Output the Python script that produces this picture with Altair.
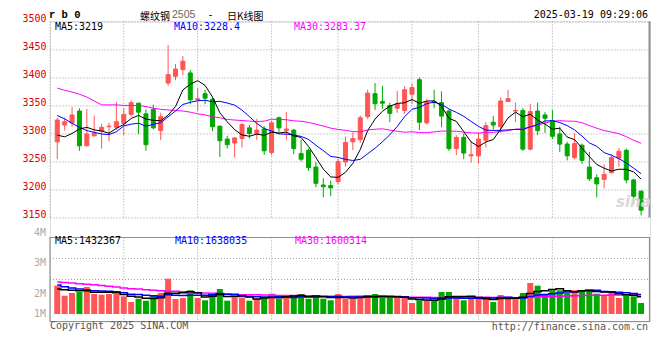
import altair as alt
import pandas as pd

# ---------------- data ----------------
dates = ["11-19", "11-20", "11-21", "11-22", "11-25", "11-26", "11-27", "11-28", "11-29",
         "12-02", "12-03", "12-04", "12-05", "12-06", "12-09", "12-10", "12-11", "12-12", "12-13",
         "12-16", "12-17", "12-18", "12-19", "12-20", "12-23", "12-24", "12-25", "12-26", "12-27",
         "12-30", "12-31", "01-02", "01-03", "01-06", "01-07", "01-08", "01-09", "01-10",
         "01-13", "01-14", "01-15", "01-16", "01-17", "01-20", "01-21", "01-22", "01-23", "01-24",
         "01-27", "02-05", "02-06", "02-07", "02-10", "02-11", "02-12", "02-13", "02-14",
         "02-17", "02-18", "02-19", "02-20", "02-21", "02-24", "02-25", "02-26", "02-27", "02-28",
         "03-03", "03-04", "03-05", "03-06", "03-07", "03-10", "03-11", "03-12", "03-13", "03-14",
         "03-17", "03-18", "03-19"]

opens = [3285, 3315, 3319, 3340, 3278, 3296, 3304, 3312, 3311, 3318,
         3334, 3354, 3335, 3343, 3305, 3390, 3402, 3414, 3408, 3360,
         3371, 3361, 3313, 3290, 3283, 3291, 3310, 3299, 3308, 3266,
         3328, 3305, 3306, 3264, 3270, 3240, 3208, 3207, 3214, 3249,
         3285, 3289, 3330, 3371, 3357, 3350, 3345, 3341, 3370, 3396,
         3319, 3357, 3355, 3340, 3273, 3293, 3260, 3260, 3288, 3320,
         3312, 3357, 3340, 3341, 3272, 3340, 3333, 3323, 3299, 3281,
         3257, 3279, 3240, 3221, 3218, 3230, 3256, 3270, 3217, 3197]
highs = [3328, 3328, 3347, 3345, 3344, 3332, 3317, 3319, 3356, 3345,
         3359, 3355, 3343, 3351, 3337, 3458, 3424, 3438, 3413, 3381,
         3378, 3363, 3314, 3296, 3293, 3319, 3315, 3326, 3313, 3322,
         3330, 3338, 3308, 3289, 3273, 3249, 3220, 3216, 3255, 3294,
         3302, 3332, 3378, 3390, 3385, 3355, 3376, 3384, 3389, 3400,
         3362, 3378, 3375, 3343, 3297, 3300, 3286, 3301, 3320, 3331,
         3364, 3378, 3355, 3345, 3353, 3355, 3338, 3342, 3312, 3285,
         3300, 3282, 3267, 3227, 3245, 3263, 3274, 3273, 3219, 3198]
lows = [3254, 3305, 3312, 3269, 3277, 3294, 3273, 3286, 3306, 3297,
        3330, 3299, 3269, 3307, 3288, 3385, 3395, 3404, 3352, 3340,
        3352, 3304, 3258, 3273, 3257, 3275, 3291, 3288, 3262, 3261,
        3302, 3288, 3263, 3250, 3233, 3204, 3186, 3188, 3209, 3241,
        3270, 3283, 3326, 3342, 3344, 3320, 3337, 3335, 3352, 3306,
        3316, 3345, 3311, 3269, 3261, 3254, 3248, 3246, 3275, 3307,
        3301, 3356, 3320, 3269, 3270, 3297, 3301, 3290, 3267, 3252,
        3254, 3246, 3215, 3186, 3202, 3229, 3241, 3211, 3174, 3154]
closes = [3324, 3321, 3333, 3278, 3299, 3301, 3311, 3313, 3321, 3334,
          3355, 3338, 3280, 3310, 3330, 3405, 3415, 3429, 3360, 3362,
          3363, 3312, 3287, 3280, 3292, 3316, 3300, 3306, 3269, 3319,
          3310, 3308, 3273, 3254, 3239, 3211, 3205, 3203, 3250, 3284,
          3291, 3328, 3372, 3353, 3354, 3336, 3353, 3378, 3382, 3320,
          3356, 3355, 3331, 3273, 3293, 3265, 3262, 3290, 3314, 3315,
          3358, 3362, 3341, 3272, 3339, 3305, 3327, 3295, 3281, 3260,
          3282, 3252, 3219, 3210, 3227, 3257, 3268, 3217, 3188, 3163]
volumes = [2368000, 1531000, 1757000, 1841000, 2259000, 1674000, 1615000, 1674000, 1674000, 1481000,
           1004000, 1280000, 1113000, 1590000, 1757000, 2954000, 1255000, 1339000, 1983000, 1339000,
           1146000, 1590000, 2092000, 1113000, 1481000, 1339000, 1113000, 1255000, 1481000, 1699000,
           1255000, 1481000, 1590000, 1674000, 1280000, 1481000, 1280000, 1146000, 1674000, 1280000,
           1280000, 1531000, 1590000, 1674000, 1339000, 1339000, 1339000, 1339000, 921000, 1146000,
           1146000, 1197000, 1841000, 1841000, 1339000, 1146000, 1255000, 1339000, 1339000, 1004000,
           1590000, 1255000, 1423000, 1757000, 2594000, 2368000, 1590000, 1983000, 1983000, 1757000,
           1983000, 1983000, 1983000, 1699000, 1590000, 1900000, 1339000, 1531000, 1481000, 921000]

# moving-average values visible before enough bars exist
ma5_lead = [3297, 3294, 3300, 3308]
ma10_lead = [3332, 3326, 3318, 3311, 3305, 3302, 3299, 3298, 3303]
ma30_lead = [3381, 3377, 3374, 3370, 3365, 3358, 3351, 3351, 3351, 3350,
             3350, 3350, 3348, 3345, 3343, 3342, 3341, 3340, 3338, 3335,
             3333, 3330, 3328, 3325, 3324, 3323, 3322, 3321, 3322]
vma5_lead = [2090000, 2030000, 1980000, 1950000]
vma10_lead = [2430000, 2280000, 2180000, 2090000, 2010000, 1950000, 1920000, 1900000, 1870000]
vma30_lead = [2680000, 2640000, 2590000, 2540000, 2490000, 2450000, 2380000, 2320000, 2260000, 2180000,
              2120000, 2090000, 2030000, 1980000, 1950000, 1900000, 1900000, 1870000, 1820000, 1760000,
              1760000, 1730000, 1700000, 1670000, 1650000, 1620000, 1620000, 1600000, 1580000]

price_ticks = [3150, 3200, 3250, 3300, 3350, 3400, 3450, 3500]
date_ticks = ["11-19", "12-02", "12-16", "12-30", "01-13", "01-27", "02-17", "03-03", "03-17"]
grid_dates = ["12-02", "12-16", "12-30", "01-13", "01-27", "02-17", "03-03"]
vol_tick_labels = ["4M", "3M", "2M", "1M"]
vol_tick_values = [6740000, 4270000, 1670000, 0]
price_ma_text = ["MA5:3219", "MA10:3228.4", "MA30:3283.37"]
vol_ma_text = ["MA5:1432367", "MA10:1638035", "MA30:1600314"]

# ---------------- styling ----------------
W, H = 600, 300
TOP_PAD = 13.4
PRICE_BOTTOM = 196.1
VOL_TOP, VOL_BOTTOM = 216.1, 300.1
LATIN_BASE = 18.0 - 8 - TOP_PAD      # header baseline (page y 18)
CJK_BASE = 19.9 - 8 - TOP_PAD        # CJK header baseline (page y 19.9)
RED = "#ff5555"
GREEN = "#00a800"
GRID = "#a0a0a0"
FRAME = "#909090"
MONO = "DejaVu Sans Mono"
CJK = "Noto Sans CJK SC"
UP = "datum.close >= datum.open"


def moving_average(values, n, lead):
    s = pd.Series(values, dtype=float).rolling(n).mean()
    s.iloc[: n - 1] = lead
    return s.round(2)


df = pd.DataFrame({"i": range(len(dates)), "date": dates, "open": opens, "high": highs,
                   "low": lows, "close": closes, "vol": volumes})
df["ma5"] = moving_average(closes, 5, ma5_lead)
df["ma10"] = moving_average(closes, 10, ma10_lead)
df["ma30"] = moving_average(closes, 30, ma30_lead)
df["vma5"] = moving_average(volumes, 5, vma5_lead)
df["vma10"] = moving_average(volumes, 10, vma10_lead)
df["vma30"] = moving_average(volumes, 30, vma30_lead)

XS = alt.Scale(domain=[-0.306, 79.53], nice=False, zero=False)
PS = alt.Scale(domain=[3150, 3500], range=[PRICE_BOTTOM, 0], nice=False, zero=False)
VS = alt.Scale(domain=[-628000, 6402000], range=[VOL_BOTTOM, VOL_TOP], nice=False, zero=False)

tick_idx = [dates.index(d) for d in date_ticks]
label_expr = " : ".join(f"datum.value == {k} ? '{d}'" for k, d in zip(tick_idx, date_ticks)) + " : ''"
grid_df = pd.DataFrame({"i": [dates.index(d) for d in grid_dates]})

base = alt.Chart(df)
one = pd.DataFrame({"d": [0]})


def note(text, x, y, color="#000000", size=10, font=MONO, align="left", weight="normal",
         style="normal", baseline="middle"):
    return alt.Chart(pd.DataFrame({"t": [text]})).mark_text(
        align=align, baseline=baseline, font=font, fontSize=size, color=color,
        fontWeight=weight, fontStyle=style
    ).encode(x=alt.value(x), y=alt.value(y), text="t:N")


layers = []

# vertical grid lines in both panels
layers.append(alt.Chart(grid_df).mark_rule(color=GRID, strokeDash=[1, 2], strokeWidth=1).encode(
    x=alt.X("i:Q", scale=XS, axis=None), y=alt.value(0), y2=alt.value(PRICE_BOTTOM)))
layers.append(alt.Chart(grid_df).mark_rule(color=GRID, strokeDash=[1, 2], strokeWidth=1).encode(
    x=alt.X("i:Q", scale=XS, axis=None), y=alt.value(VOL_TOP), y2=alt.value(VOL_BOTTOM)))
# horizontal dotted grid lines of the volume panel
for frac in (0.25, 0.5):
    yy = VOL_TOP + (VOL_BOTTOM - VOL_TOP) * frac
    layers.append(alt.Chart(one).mark_rule(color=GRID, strokeDash=[1, 2], strokeWidth=1).encode(
        x=alt.value(0), x2=alt.value(W), y=alt.value(yy)))
# panel frames
layers.append(alt.Chart(one).mark_rule(color=GRID, strokeDash=[1, 2], strokeWidth=1).encode(
    x=alt.value(0), y=alt.value(0), y2=alt.value(PRICE_BOTTOM)))
layers.append(alt.Chart(one).mark_rule(color=FRAME, strokeWidth=2).encode(
    x=alt.value(W - 0.5), y=alt.value(0), y2=alt.value(PRICE_BOTTOM)))
layers.append(alt.Chart(one).mark_rect(fillOpacity=0, stroke=FRAME, strokeWidth=1.2).encode(
    x=alt.value(0), x2=alt.value(W - 0.5), y=alt.value(VOL_TOP), y2=alt.value(VOL_BOTTOM)))

# volume bars
layers.append(base.mark_bar(size=6, orient="vertical").encode(
    x=alt.X("i:Q", scale=XS, axis=None),
    y=alt.Y("vol:Q", scale=VS, axis=None),
    y2=alt.datum(0),
    color=alt.condition(UP, alt.value(RED), alt.value(GREEN))))
# volume moving averages
for field, col in (("vma30", "#ff00ff"), ("vma10", "#0000ff"), ("vma5", "#000000")):
    layers.append(base.mark_line(color=col, strokeWidth=1.5, interpolate="step").encode(
        x=alt.X("i:Q", scale=XS, axis=None), y=alt.Y(f"{field}:Q", scale=VS, axis=None)))

# candle wicks (carry the date axis)
layers.append(base.mark_rule(strokeWidth=1).encode(
    x=alt.X("i:Q", scale=XS, axis=alt.Axis(
        values=tick_idx, labelExpr=label_expr, offset=-(H - PRICE_BOTTOM), domain=False,
        ticks=False, grid=False, labelColor="#1874cd", labelFont=MONO, labelFontSize=10,
        labelPadding=10.5, labelBaseline="alphabetic", labelFlush=False, labelOverlap=False,
        title=None)),
    y=alt.Y("low:Q", scale=PS, axis=None),
    y2="high:Q",
    color=alt.condition(UP, alt.value(RED), alt.value(GREEN))))
# candle bodies (carry the price axis)
layers.append(base.mark_bar(size=4, strokeWidth=1, orient="vertical").encode(
    x=alt.X("i:Q", scale=XS, axis=None),
    y=alt.Y("open:Q", scale=PS, axis=alt.Axis(
        values=price_ticks, format="d", grid=True, gridColor=GRID, gridDash=[1, 2], gridWidth=1,
        domain=False, ticks=False, labelColor="#dd0000", labelFont=MONO, labelFontSize=10,
        labelPadding=4, labelBaseline="alphabetic", labelOffset=0.5, title=None)),
    y2="close:Q",
    color=alt.condition(UP, alt.value(RED), alt.value(GREEN)),
    stroke=alt.condition(UP, alt.value(RED), alt.value(GREEN))))
# price moving averages
for field, col in (("ma30", "#ff00ff"), ("ma10", "#0000ff"), ("ma5", "#000000")):
    layers.append(base.mark_line(color=col, strokeWidth=1).encode(
        x=alt.X("i:Q", scale=XS, axis=None), y=alt.Y(f"{field}:Q", scale=PS, axis=None)))

# volume axis labels
layers.append(alt.Chart(pd.DataFrame({"t": vol_tick_labels, "v": vol_tick_values})).mark_text(
    align="right", baseline="middle", font=MONO, fontSize=10, color="#aaaaaa").encode(
    x=alt.value(-4), y=alt.Y("v:Q", scale=VS, axis=None), text="t:N"))

# header and legends
layers.append(note("r b 0", -1, LATIN_BASE, size=10.5, font="Liberation Mono", weight="bold",
                   baseline="alphabetic"))
layers.append(note("螺纹钢", 90, CJK_BASE, size=10, font=CJK, baseline="alphabetic"))
layers.append(note("2505", 122, LATIN_BASE, color="#666666", size=10.5, font="Liberation Sans",
                   baseline="alphabetic"))
layers.append(note("-", 160.5, LATIN_BASE, size=10.5, font="Liberation Sans", align="center",
                   baseline="alphabetic"))
layers.append(note("日K线图", 177, CJK_BASE, size=10, font=CJK, baseline="alphabetic"))
layers.append(note("2025-03-19 09:29:06", 598, LATIN_BASE, size=10, align="right",
                   baseline="alphabetic"))
layers.append(note(price_ma_text[0], 5, 5.6, color="#000000"))
layers.append(note(price_ma_text[1], 124, 5.6, color="#0000ff"))
layers.append(note(price_ma_text[2], 244, 5.6, color="#ff00ff"))
layers.append(note(vol_ma_text[0], 5, 219.9, color="#000000"))
layers.append(note(vol_ma_text[1], 125, 219.9, color="#0000ff"))
layers.append(note(vol_ma_text[2], 245, 219.9, color="#ff00ff"))
layers.append(note("Copyright 2025 SINA.COM", 0, 305.1, color="#555555"))
layers.append(note("http://finance.sina.com.cn", 598, 305.6, color="#555555", align="right"))
layers.append(note("sina", 566, 181, color="#d8d8d8", size=15, font="DejaVu Sans",
                   weight="bold", style="italic"))

chart = alt.layer(*layers).resolve_scale(y="independent").properties(
    width=W, height=H,
    autosize=alt.AutoSizeParams(type="none"),
    padding={"left": 42, "top": TOP_PAD, "right": 2, "bottom": 22},
).configure_view(strokeWidth=0).configure(background="white")

chart.save("out.html", embed_options={"renderer": "svg", "actions": False})
